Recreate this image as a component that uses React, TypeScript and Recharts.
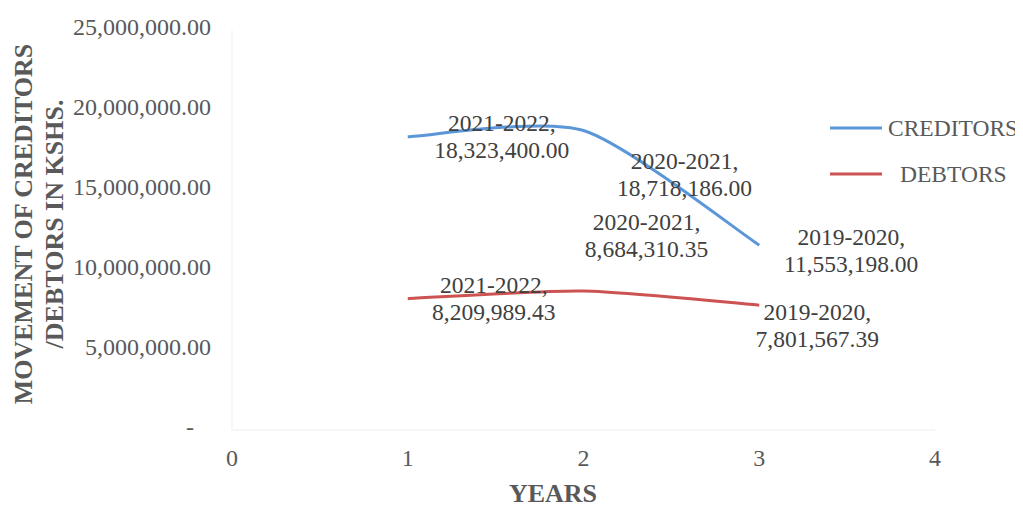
import React from 'react';
import { LineChart, Line, XAxis, YAxis, LabelList, Legend, Label } from 'recharts';

// Financial years per x position (1..3) and the movement in KSHS.
const xPositions = [1, 2, 3];
const yearLabels = ['2021-2022', '2020-2021', '2019-2020'];
const creditorsValues = [18323400.0, 18718186.0, 11553198.0];
const debtorsValues = [8209989.43, 8684310.35, 7801567.39];

const xTicks = [0, 1, 2, 3, 4];
const yTicks = [0, 5000000, 10000000, 15000000, 20000000, 25000000];

const data = xPositions.map((x, i) => ({
  x,
  year: yearLabels[i],
  creditors: creditorsValues[i],
  debtors: debtorsValues[i],
}));

const FONT = '"Liberation Serif", "Times New Roman", serif';
const BLUE = '#5A96D8';
const RED = '#CD5252';
const TICK_COLOR = '#595959';
const LABEL_COLOR = '#404040';

// Where each data label sits relative to its point: [dx, dy of first line].
const creditorLabelOffsets = [
  [94, -14],
  [101, 30],
  [92, -8],
];
const debtorLabelOffsets = [
  [86, -14],
  [63, -69],
  [58, 7],
];

const fmt = (v: number) =>
  v.toLocaleString('en-US', { minimumFractionDigits: 2, maximumFractionDigits: 2 });

// Cardinal-style smoothing, similar to a spreadsheet "smoothed line".
function smoothCurve(k: number) {
  return (context: any) => {
    let pts: number[][] = [];
    return {
      areaStart() {},
      areaEnd() {},
      lineStart() {
        pts = [];
      },
      point(x: number, y: number) {
        pts.push([+x, +y]);
      },
      lineEnd() {
        const n = pts.length;
        if (!n) return;
        context.moveTo(pts[0][0], pts[0][1]);
        for (let i = 0; i < n - 1; i++) {
          const p0 = pts[Math.max(i - 1, 0)];
          const p1 = pts[i];
          const p2 = pts[i + 1];
          const p3 = pts[Math.min(i + 2, n - 1)];
          context.bezierCurveTo(
            p1[0] + k * (p2[0] - p0[0]),
            p1[1] + k * (p2[1] - p0[1]),
            p2[0] - k * (p3[0] - p1[0]),
            p2[1] - k * (p3[1] - p1[1]),
            p2[0],
            p2[1]
          );
        }
      },
    };
  };
}

const curve = smoothCurve(0.12);

const makeLabel = (offsets: number[][]) => (props: any) => {
  const { x, y, index, value } = props;
  const [dx, dy] = offsets[index];
  const cx = x + dx;
  const y1 = y + dy;
  return (
    <g>
      <text x={cx} y={y1} dy="0.35em" textAnchor="middle" fontFamily={FONT} fontSize={23.5} fill={LABEL_COLOR}>
        {`${yearLabels[index]},`}
      </text>
      <text x={cx} y={y1 + 27} dy="0.35em" textAnchor="middle" fontFamily={FONT} fontSize={23.5} fill={LABEL_COLOR}>
        {fmt(value)}
      </text>
    </g>
  );
};

const YTick = (props: any) => {
  const { y, payload } = props;
  if (payload.value === 0) {
    return (
      <text x={182} y={y - 3} dy="0.35em" textAnchor="middle" fontFamily={FONT} fontSize={24} fill={TICK_COLOR}>
        -
      </text>
    );
  }
  return (
    <text x={203} y={y - 3} dy="0.35em" textAnchor="end" fontFamily={FONT} fontSize={24} fill={TICK_COLOR}>
      {fmt(payload.value)}
    </text>
  );
};

const XTick = (props: any) => {
  const { x, y, payload } = props;
  return (
    <text x={x} y={y + 20} dy="0.35em" textAnchor="middle" fontFamily={FONT} fontSize={24} fill={TICK_COLOR}>
      {payload.value}
    </text>
  );
};

const YTitle = () => (
  <g fontFamily={FONT} fontSize={26} fontWeight="bold" fill={TICK_COLOR}>
    <text x={15} y={216} dy="0.35em" textAnchor="middle" transform="rotate(-90 15 216)">
      MOVEMENT OF CREDITORS
    </text>
    <text x={46} y={216} dy="0.35em" textAnchor="middle" transform="rotate(-90 46 216)">
      /DEBTORS IN KSHS.
    </text>
  </g>
);

const XTitle = () => (
  <text x={545} y={494} textAnchor="middle" fontFamily={FONT} fontSize={26} fontWeight="bold" fill={TICK_COLOR}>
    YEARS
  </text>
);

const LegendBox = () => (
  <svg width={200} height={90} style={{ display: 'block', overflow: 'visible' }}>
    <line x1={0} x2={52} y1={20} y2={20} stroke={BLUE} strokeWidth={3} />
    <text x={58} y={20} dy="0.35em" fontFamily={FONT} fontSize={23.5} fill={TICK_COLOR}>
      CREDITORS
    </text>
    <line x1={0} x2={52} y1={66} y2={66} stroke={RED} strokeWidth={3} />
    <text x={70} y={66} dy="0.35em" fontFamily={FONT} fontSize={23.5} fill={TICK_COLOR}>
      DEBTORS
    </text>
  </svg>
);

export default function App() {
  return (
    <div style={{ width: 1015, height: 502, background: '#fff' }}>
      <LineChart
        width={1015}
        height={502}
        data={data}
        margin={{ top: 22, right: 88, bottom: 40, left: 0 }}
      >
        <XAxis
          dataKey="x"
          type="number"
          domain={[0, 4]}
          ticks={xTicks}
          height={40}
          axisLine={{ stroke: '#efefef' }}
          tickLine={false}
          tick={<XTick />}
          interval={0}
        >
          <Label content={<XTitle />} />
        </XAxis>
        <YAxis
          type="number"
          domain={[0, 25000000]}
          ticks={yTicks}
          width={224}
          axisLine={{ stroke: '#efefef' }}
          tickLine={false}
          tick={<YTick />}
          interval={0}
        >
          <Label content={<YTitle />} />
        </YAxis>
        <Legend
          layout="vertical"
          align="center"
          verticalAlign="middle"
          content={<LegendBox />}
          wrapperStyle={{ position: 'absolute', left: 822, top: 100, width: 200 }}
        />
        <Line
          dataKey="creditors"
          name="CREDITORS"
          type={curve as any}
          stroke={BLUE}
          strokeWidth={3}
          dot={false}
          activeDot={false}
          isAnimationActive={false}
        >
          <LabelList dataKey="creditors" content={makeLabel(creditorLabelOffsets)} />
        </Line>
        <Line
          dataKey="debtors"
          name="DEBTORS"
          type={curve as any}
          stroke={RED}
          strokeWidth={3}
          dot={false}
          activeDot={false}
          isAnimationActive={false}
        >
          <LabelList dataKey="debtors" content={makeLabel(debtorLabelOffsets)} />
        </Line>
      </LineChart>
    </div>
  );
}
